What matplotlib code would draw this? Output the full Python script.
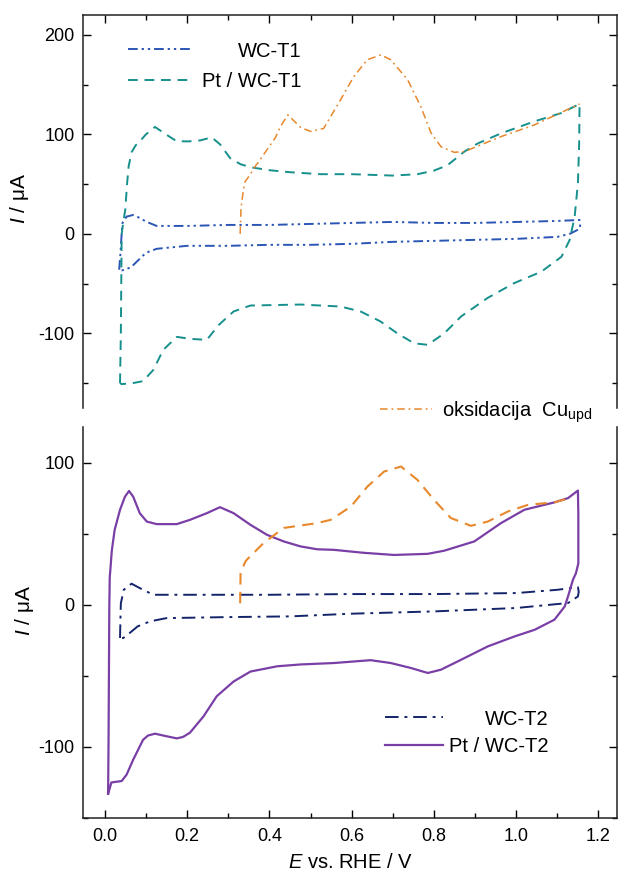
import matplotlib
matplotlib.use("Agg")
import matplotlib.pyplot as plt
import numpy as np
from matplotlib.ticker import MultipleLocator

plt.rcParams['font.family'] = ['Liberation Sans', 'DejaVu Sans']
plt.rcParams['mathtext.fontset'] = 'custom'
plt.rcParams['mathtext.rm'] = 'Liberation Sans'
plt.rcParams['mathtext.it'] = 'Liberation Sans:italic'
plt.rcParams['axes.unicode_minus'] = False

# ---------------- data (top panel) ----------------
wc1_x = [0.035, 0.036, 0.038, 0.040, 0.043, 0.053, 0.069, 0.085, 0.100, 0.126, 0.2, 0.3, 0.4, 0.5, 0.6, 0.7,
         0.8, 0.9, 1.0, 1.1, 1.154, 1.156,
         1.154, 1.13, 1.1, 1.0, 0.9, 0.8, 0.7, 0.6, 0.5, 0.4, 0.3, 0.2, 0.126, 0.1, 0.085, 0.065, 0.05, 0.037, 0.035]
wc1_y = [-36, -30, -20, -6, 11, 17.4, 19, 16, 12.4, 8, 8, 9, 9, 10, 11, 12,
         11, 11, 12, 13, 14, 10,
         5, 0, -3, -5, -6, -7, -8, -10, -11, -11, -12, -12, -15, -19, -25, -33, -36, -37, -36]

pt1_x = [0.037, 0.039, 0.040, 0.041, 0.045, 0.050, 0.054, 0.058, 0.065, 0.075, 0.085, 0.100, 0.122, 0.145,
         0.175, 0.205, 0.232, 0.260, 0.280, 0.305, 0.330, 0.354, 0.40, 0.45, 0.524, 0.60, 0.70, 0.76, 0.80,
         0.833, 0.874, 0.907, 0.963, 1.044, 1.11, 1.154,
         1.153, 1.150, 1.142, 1.13, 1.11, 1.061, 0.995, 0.93, 0.866, 0.825, 0.785, 0.752, 0.711, 0.67, 0.622,
         0.573, 0.476, 0.354, 0.313, 0.277, 0.248, 0.207, 0.175, 0.142, 0.118, 0.093, 0.068, 0.041, 0.037]
pt1_y = [-150, -100, -50, 0, 12, 25, 50, 68, 82, 89, 93, 100, 107.5, 101,
         93, 93, 94, 97, 90, 76, 70, 67, 64, 62, 60, 60, 58.6, 60, 63.6,
         69, 82.7, 91, 101, 113, 121.5, 130.6,
         90, 51, 17, -6, -23, -38, -49.5, -64.5, -83, -100, -111.5, -110, -100, -88, -78,
         -73, -71, -72, -78, -91.5, -106.5, -105.5, -103.5, -116.6, -136.7, -148, -150, -151, -150]

cu1_x = [0.329, 0.331, 0.337, 0.341, 0.354, 0.362, 0.373, 0.394, 0.415, 0.427, 0.445, 0.476, 0.50, 0.532,
         0.573, 0.605, 0.638, 0.671, 0.695, 0.736, 0.768, 0.793, 0.817, 0.849, 0.874, 0.963, 1.044, 1.154]
cu1_y = [0, 25, 45, 52.5, 60, 66, 72, 84.4, 97, 108, 119.6, 107, 103, 106,
         134.7, 158, 175, 180, 175, 155, 128, 101.5, 87.7, 82, 82.7, 97.8, 109.5, 130.6]

# ---------------- data (bottom panel) ----------------
wc2_x = [0.037, 0.038, 0.039, 0.046, 0.065, 0.085, 0.118, 0.2, 0.4, 0.6, 0.8, 1.0, 1.1, 1.15, 1.152,
         1.15, 1.126, 1.0, 0.8, 0.6, 0.45, 0.3, 0.15, 0.11, 0.08, 0.06, 0.045, 0.037]
wc2_y = [-23.4, -10, 1, 10.5, 14.8, 11.7, 7, 7, 7, 7.5, 7.5, 8.2, 10.5, 12.4, 9,
         5.8, 1.2, -2.3, -4.7, -6.3, -8.2, -8.7, -9.4, -11.7, -15.2, -20, -23.4, -23.4]

pt2_x = [0.008, 0.009, 0.010, 0.011, 0.012, 0.017, 0.024, 0.037, 0.049, 0.059, 0.069, 0.085, 0.102, 0.126,
         0.175, 0.207, 0.248, 0.28, 0.313, 0.354, 0.394, 0.435, 0.476, 0.516, 0.557, 0.63, 0.703, 0.785,
         0.825, 0.898, 0.963, 1.02, 1.093, 1.126, 1.15,
         1.151, 1.151, 1.145, 1.138, 1.126, 1.118, 1.093, 1.045, 0.996, 0.931, 0.866, 0.817, 0.785,
         0.744, 0.695, 0.646, 0.557, 0.476, 0.419, 0.354, 0.313, 0.272, 0.24, 0.207, 0.19, 0.175, 0.15,
         0.122, 0.105, 0.093, 0.069, 0.053, 0.041, 0.016, 0.008]
pt2_y = [-133, -100, -50, 0, 19, 38, 52.7, 66.8, 76, 80, 76, 64.4, 58.5, 56.7,
         56.7, 59.7, 64.4, 68.6, 64.4, 56.2, 49.2, 44.5, 41, 39, 38.6, 36.5, 35, 35.8,
         38, 44.5, 57.4, 66.8, 72, 75, 80.3,
         64, 29, 22, 17.6, 5.9, -1.2, -10.5, -17.6, -22.3, -29.3, -38.7, -45.7, -48,
         -44.5, -41, -39, -41, -42, -43.3, -47, -54, -64.4, -78.5, -90, -93, -94, -92.5,
         -90.7, -92, -95, -109, -119.5, -124, -125, -133]

cu2_x = [0.329, 0.330, 0.341, 0.345, 0.386, 0.435, 0.516, 0.549, 0.598, 0.638, 0.679, 0.72, 0.76,
         0.80, 0.841, 0.89, 0.931, 0.98, 1.029, 1.093, 1.13]
cu2_y = [1, 22, 30, 31.6, 43.4, 54, 57.4, 59.7, 69, 83, 93.7, 97.2, 87.8,
         73.8, 61, 55.5, 58.5, 65.6, 70.3, 72, 75]

labels_top = ["WC-T1", "Pt / WC-T1"]
labels_bot = ["WC-T2", "Pt / WC-T2"]
label_cu = "oksidacija  Cu$_{\\mathregular{upd}}$"

c_wc1 = "#2b56b5"
c_pt1 = "#16908c"
c_cu = "#e8882c"
c_wc2 = "#13246a"
c_pt2 = "#7a3fa6"

W, H = 619, 877
fig = plt.figure(figsize=(W / 100, H / 100), dpi=100)
ax1 = fig.add_axes([83 / W, 1 - 408 / H, (617 - 83) / W, (408 - 15) / H])
ax2 = fig.add_axes([83 / W, 1 - 818 / H, (617 - 83) / W, (818 - 427) / H])

l_wc1, = ax1.plot(wc1_x, wc1_y, color=c_wc1, lw=1.4, dashes=[5, 2, 1.2, 2, 1.2, 2])
l_pt1, = ax1.plot(pt1_x, pt1_y, color=c_pt1, lw=1.4, dashes=[5, 3.5])
l_cu1, = ax1.plot(cu1_x, cu1_y, color=c_cu, lw=1.1, dashes=[5, 2.5, 1.2, 2.5])

l_wc2, = ax2.plot(wc2_x, wc2_y, color=c_wc2, lw=1.4, dashes=[7, 3, 1.5, 3])
l_pt2, = ax2.plot(pt2_x, pt2_y, color=c_pt2, lw=1.6, solid_joinstyle='round')
l_cu2, = ax2.plot(cu2_x, cu2_y, color=c_cu, lw=1.5, dashes=[5.5, 3.5])

for ax in (ax1, ax2):
    ax.set_xlim(-0.053, 1.245)
    ax.xaxis.set_major_locator(MultipleLocator(0.2))
    ax.xaxis.set_minor_locator(MultipleLocator(0.1))
    ax.yaxis.set_major_locator(MultipleLocator(100))
    ax.yaxis.set_minor_locator(MultipleLocator(50))
    ax.tick_params(which='both', direction='in', width=1.0, labelsize=13, colors='black')
    ax.tick_params(which='major', length=6)
    ax.tick_params(which='minor', length=3.5)
    ax.tick_params(axis='y', pad=6)
    ax.tick_params(axis='x', pad=7)
    for s in ax.spines.values():
        s.set_linewidth(1.1)
        s.set_color('#222222')

ax1.set_ylim(-175, 220)
ax2.set_ylim(-150, 125)

ax1.spines['bottom'].set_visible(False)
ax1.tick_params(which='both', top=True, bottom=False, right=True, left=True, labelbottom=False)
ax2.spines['top'].set_visible(False)
ax2.tick_params(which='both', top=False, bottom=True, right=True, left=True)
ax2.xaxis.set_major_formatter(matplotlib.ticker.FormatStrFormatter('%.1f'))

ax1.set_ylabel("$I$ / \u03bcA", fontsize=15)
ax2.set_ylabel("$I$ / \u03bcA", fontsize=15)
ax1.yaxis.set_label_coords(-0.097, 0.534)
ax2.yaxis.set_label_coords(-0.088, 0.53)
ax2.set_xlabel("$E$ vs. RHE / V", fontsize=14.5, labelpad=6)


def right_align(leg):
    fig.canvas.draw()
    r = fig.canvas.get_renderer()
    texts = leg.get_texts()
    widths = [t.get_window_extent(r).width for t in texts]
    mw = max(widths)
    rows = leg._legend_handle_box.get_children()[0].get_children()
    for row, w in zip(rows, widths):
        row.sep = row.sep + (mw - w) * 72 / fig.dpi


leg1 = ax1.legend([l_wc1, l_pt1], labels_top, loc='upper left', bbox_to_anchor=(0.07, 0.953),
                  frameon=False, fontsize=14.5, handlelength=3.1, handletextpad=0.55,
                  labelspacing=0.55, borderaxespad=0)
leg2 = ax2.legend([l_wc2, l_pt2], labels_bot, loc='upper left', bbox_to_anchor=(0.55, 0.298),
                  frameon=False, fontsize=14.5, handlelength=2.9, handletextpad=0.3,
                  labelspacing=0.4, borderaxespad=0)
leg3 = fig.legend([l_cu1], [label_cu], loc='center left', bbox_to_anchor=(373 / W, 1 - 412 / H),
                  frameon=True, facecolor='white', edgecolor='none', framealpha=1, fontsize=14.5,
                  handlelength=2.6, handletextpad=0.5, borderaxespad=0, borderpad=0.35)
right_align(leg1)
right_align(leg2)

fig.savefig("out.png", dpi=100, facecolor='white')
